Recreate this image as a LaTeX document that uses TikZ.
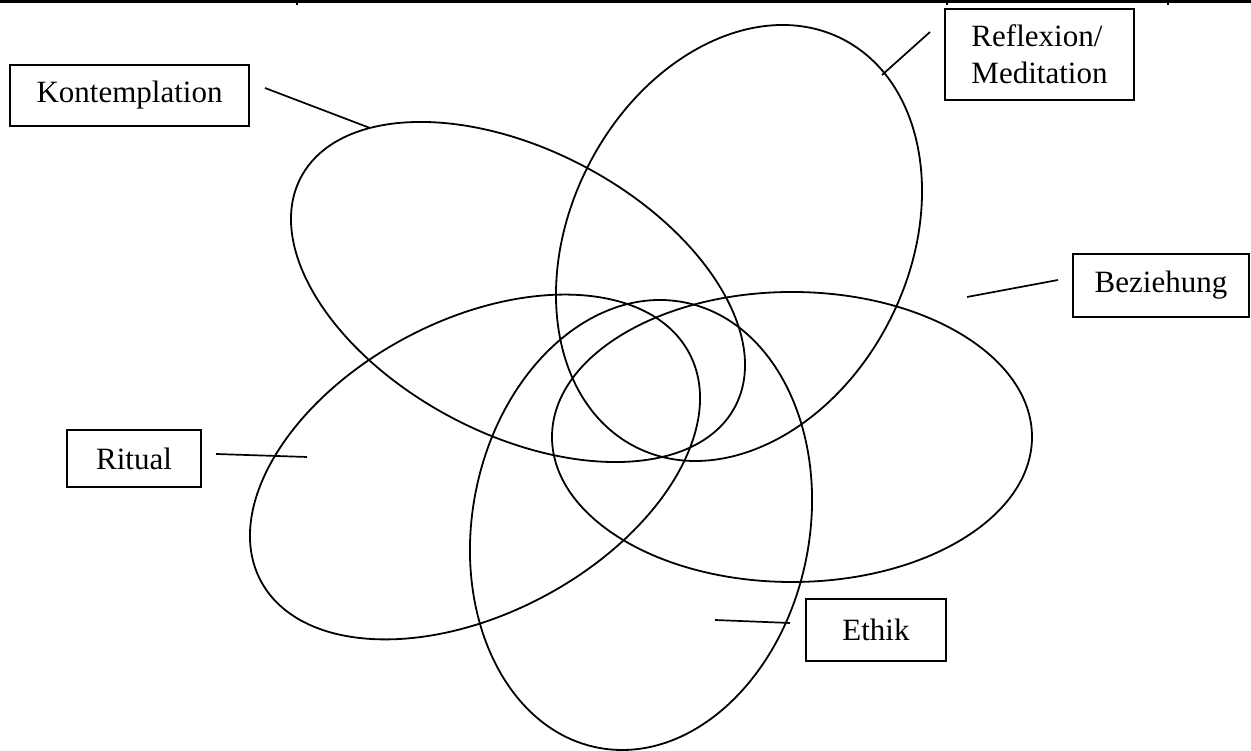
\documentclass[tikz,border=0pt]{standalone}
\usepackage{fontspec}
\setmainfont{Liberation Serif}
\begin{document}
\begin{tikzpicture}[x=1pt,y=1pt,
  lbl/.style={draw, line width=1.7pt, inner sep=0pt, font=\fontsize{31}{37}\selectfont},
  conn/.style={line width=1.7pt},
  ell/.style={line width=1.8pt}]
\useasboundingbox (0,0) rectangle (1251,751);
% top rule with ticks
\draw[line width=3pt] (0,749.5) -- (1251,749.5);
\foreach \tx in {297,947,1168} \draw[line width=1.3pt] (\tx,751) -- (\tx,746);
\draw[line width=1.5pt] (607,751) -- (607,748);
% ellipses
\draw[ell, shift={(518,459)}, rotate=-27.85] (0,0) ellipse [x radius=245.5pt, y radius=142pt];
\draw[ell, shift={(739,508)}, rotate=63.2] (0,0) ellipse [x radius=228.7pt, y radius=169.4pt];
\draw[ell, shift={(792,314)}, rotate=0] (0,0) ellipse [x radius=240pt, y radius=145pt];
\draw[ell, shift={(475,284)}, rotate=28] (0,0) ellipse [x radius=242.6pt, y radius=146.6pt];
\draw[ell, shift={(641,226)}, rotate=79.1] (0,0) ellipse [x radius=226.8pt, y radius=168.6pt];
% labels
\node[lbl, minimum width=239pt, minimum height=61pt] (kon) at (129.5,655.5) {Kontemplation};
\node[lbl, minimum width=189pt, minimum height=91pt, align=left] (ref) at (1039.5,696.5) {Reflexion/\\Meditation};
\node[lbl, minimum width=176pt, minimum height=63pt] (bez) at (1161,465.5) {Beziehung};
\node[lbl, minimum width=134pt, minimum height=57pt] (rit) at (134,292.5) {Ritual};
\node[lbl, minimum width=140pt, minimum height=62pt] (eth) at (876,121) {Ethik};
% connectors
\coordinate (k1) at (265,663); \coordinate (k2) at (370,623);
\coordinate (r1) at (930,719); \coordinate (r2) at (882,676);
\coordinate (b1) at (1058,471); \coordinate (b2) at (967,454);
\coordinate (t1) at (216,297); \coordinate (t2) at (307,294);
\coordinate (e1) at (790,128); \coordinate (e2) at (715,131);
\draw[conn] (k1) -- (k2);
\draw[conn] (r1) -- (r2);
\draw[conn] (b1) -- (b2);
\draw[conn] (t1) -- (t2);
\draw[conn] (e1) -- (e2);
\end{tikzpicture}
\end{document}
